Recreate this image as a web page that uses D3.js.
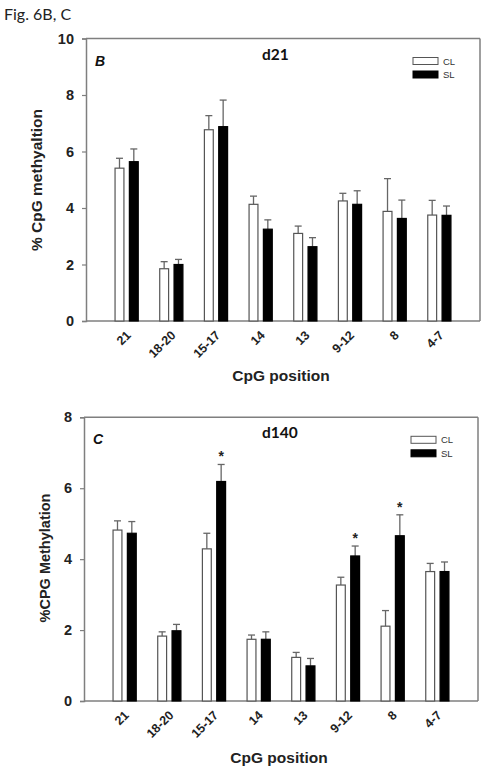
<!DOCTYPE html>
<html><head><meta charset="utf-8">
<script src="https://cdn.jsdelivr.net/npm/d3@7"></script>
<style>body{margin:0;background:#fff}svg{display:block}</style>
</head><body>
<svg id="chart" width="487" height="772"></svg>
<script>
const categories = ["21","18-20","15-17","14","13","9-12","8","4-7"];
const series = ["CL","SL"];
// Panel B (d21)
const d21CL = [5.41,1.85,6.77,4.13,3.10,4.25,3.88,3.75];
const d21CLErr = [0.35,0.25,0.50,0.29,0.26,0.27,1.16,0.52];
const d21SL = [5.64,2.00,6.88,3.25,2.63,4.13,3.63,3.74];
const d21SLErr = [0.45,0.18,0.94,0.33,0.32,0.48,0.65,0.33];
const d21Ticks = [0,2,4,6,8,10];
// Panel C (d140)
const d140CL = [4.82,1.83,4.29,1.74,1.23,3.27,2.11,3.65];
const d140CLErr = [0.26,0.12,0.44,0.12,0.14,0.22,0.44,0.23];
const d140SL = [4.73,1.98,6.19,1.74,0.99,4.09,4.66,3.65];
const d140SLErr = [0.33,0.18,0.48,0.21,0.21,0.28,0.59,0.27];
const d140Ticks = [0,2,4,6,8];
const d140Sig = [false,false,true,false,false,true,true,false];

const svg = d3.select("#chart");
const AX = "#7f7f7f";

svg.append("text").attr("x",4).attr("y",20)
  .attr("font-family","Lato, 'Open Sans', sans-serif").attr("font-size",16).attr("fill","#222")
  .text("Fig. 6B, C");

function panel(o){
  const g = svg.append("g");
  const x = d3.scalePoint().domain(categories).range([o.x0,o.x1]).padding(0.91);
  const inner = d3.scaleBand().domain(series).range([-11.6,11.6]).paddingInner(0.38);
  const y = d3.scaleLinear().domain([0,o.ymax]).range([o.y0,o.y1]);
  const bw = inner.bandwidth();

  // frame
  g.append("line").attr("x1",o.x0).attr("x2",o.x1).attr("y1",o.y1).attr("y2",o.y1).attr("stroke",AX).attr("stroke-width",1.5);
  g.append("line").attr("x1",o.x1).attr("x2",o.x1).attr("y1",o.y1).attr("y2",o.y0).attr("stroke",AX).attr("stroke-width",1.5);

  // y axis
  const ya = g.append("g").attr("transform",`translate(${o.x0},0)`)
    .call(d3.axisLeft(y).tickValues(o.ticks).tickSize(4).tickPadding(8).tickFormat(d3.format("d")));
  ya.select(".domain").attr("stroke",AX).attr("stroke-width",1.5);
  ya.selectAll(".tick line").attr("stroke",AX).attr("stroke-width",1.2);
  ya.selectAll(".tick text").attr("font-family","'Liberation Sans', Arial, sans-serif")
    .attr("font-size",14.5).attr("font-weight","bold").attr("fill","#222");

  // x axis
  g.append("line").attr("x1",o.x0).attr("x2",o.x1).attr("y1",o.y0).attr("y2",o.y0).attr("stroke",AX).attr("stroke-width",1.5);
  g.selectAll(".xl").data(categories).join("text")
    .attr("transform",d=>`translate(${x(d)+5},${o.y0+15}) rotate(-45)`)
    .attr("text-anchor","end").attr("font-family","'Liberation Sans', Arial, sans-serif")
    .attr("font-size",12.5).attr("font-weight","bold").attr("fill","#222").text(d=>d);

  const sets = [
    {s:"CL", v:o.cl, e:o.clErr, fill:"#fff", stroke:"#555"},
    {s:"SL", v:o.sl, e:o.slErr, fill:"#000", stroke:"#000"}
  ];
  sets.forEach(st=>{
    const data = categories.map((c,i)=>({c, v:st.v[i], e:st.e[i]}));
    const cx = d=>x(d.c)+inner(st.s)+bw/2;
    g.selectAll(null).data(data).join("line")
      .attr("x1",cx).attr("x2",cx).attr("y1",d=>y(d.v)).attr("y2",d=>y(d.v+d.e))
      .attr("stroke","#666").attr("stroke-width",1.3);
    g.selectAll(null).data(data).join("line")
      .attr("x1",d=>cx(d)-3.5).attr("x2",d=>cx(d)+3.5).attr("y1",d=>y(d.v+d.e)).attr("y2",d=>y(d.v+d.e))
      .attr("stroke","#666").attr("stroke-width",1.3);
    g.selectAll(null).data(data).join("rect")
      .attr("x",d=>x(d.c)+inner(st.s)).attr("width",bw)
      .attr("y",d=>y(d.v)).attr("height",d=>y(0)-y(d.v))
      .attr("fill",st.fill).attr("stroke",st.stroke).attr("stroke-width",1.2);
  });

  if(o.sig){
    const data = categories.map((c,i)=>({c, v:o.sl[i]+o.slErr[i], s:o.sig[i]})).filter(d=>d.s);
    g.selectAll(null).data(data).join("text")
      .attr("x",d=>x(d.c)+inner("SL")+bw/2).attr("y",d=>y(d.v)-3)
      .attr("text-anchor","middle").attr("font-family","'Liberation Sans', Arial, sans-serif")
      .attr("font-size",14).attr("font-weight","bold").attr("fill","#222").text("*");
  }

  g.append("text").attr("x",o.x0+9).attr("y",o.y1+27).attr("font-family","'Liberation Sans', Arial, sans-serif")
    .attr("font-size",14).attr("font-weight","bold").attr("font-style","italic").attr("fill","#111").text(o.letter);
  g.append("text").attr("x",262).attr("y",o.y1+21).attr("font-family","Lato, 'Open Sans', sans-serif")
    .attr("font-size",15.5).attr("font-weight","bold").attr("fill","#111").text(o.title);

  const lx = o.x1-67, ly = o.y1+19;
  series.forEach((s,i)=>{
    g.append("rect").attr("x",lx).attr("y",ly+i*13.5).attr("width",25).attr("height",7)
      .attr("fill",i?"#000":"#fff").attr("stroke",i?"#000":"#555").attr("stroke-width",1);
    g.append("text").attr("x",lx+30).attr("y",ly+i*13.5+7).attr("font-family","'Liberation Sans Narrow','Liberation Sans',Arial,sans-serif")
      .attr("font-size",9.5).attr("fill","#333").text(s);
  });

  g.append("text").attr("x",(o.x0+o.x1)/2-2).attr("y",o.xTitleY).attr("text-anchor","middle")
    .attr("font-family","'Liberation Sans', Arial, sans-serif").attr("font-size",15.5).attr("font-weight","bold")
    .attr("fill","#222").text("CpG position");
  g.append("text").attr("transform",`translate(${o.yTitleX},${o.yTitleY}) rotate(-90)`).attr("text-anchor","middle")
    .attr("font-family","'Liberation Sans', Arial, sans-serif").attr("font-size",o.ytSize).attr("font-weight","bold")
    .attr("fill","#222").text(o.ytitle);
}

panel({x0:86,x1:480,y0:321,y1:38.5,ymax:10,ticks:d21Ticks,cl:d21CL,clErr:d21CLErr,sl:d21SL,slErr:d21SLErr,
  letter:"B",title:"d21",ytitle:"% CpG methyaltion",ytSize:15.5,xTitleY:381,yTitleX:42,yTitleY:180});
panel({x0:84,x1:478,y0:701,y1:417.3,ymax:8,ticks:d140Ticks,cl:d140CL,clErr:d140CLErr,sl:d140SL,slErr:d140SLErr,sig:d140Sig,
  letter:"C",title:"d140",ytitle:"%CPG Methylation",ytSize:14.5,xTitleY:763,yTitleX:50,yTitleY:558});
</script>
</body></html>
